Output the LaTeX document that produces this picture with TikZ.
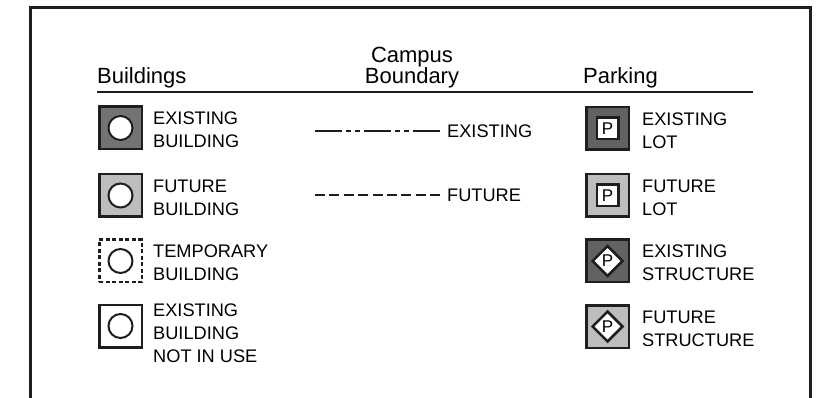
\documentclass[tikz,border=0pt]{standalone}
\usepackage{fontspec}
\setmainfont{Liberation Sans}
\usepackage{tikz}
\usetikzlibrary{positioning,shapes.geometric}
\definecolor{existgray}{HTML}{737373}
\definecolor{futuregray}{HTML}{BDBDBD}
\definecolor{inkblack}{HTML}{1E1E1E}

\begin{document}
\begin{tikzpicture}[x=1pt, y=-1pt,
  frame/.style={draw=inkblack, line width=3pt},
  head/.style={inner sep=0pt, font=\fontsize{22}{21}\selectfont},
  icon/.style={draw=inkblack, line width=2.5pt, minimum size=42.5pt, inner sep=0pt},
  hole/.style={circle, draw=inkblack, fill=white, line width=2pt,
               minimum size=24pt, inner sep=0pt},
  pbox/.style={draw=inkblack, fill=white, line width=2.5pt, minimum size=21.5pt,
               inner sep=0pt, font=\fontsize{17}{17}\selectfont},
  pdia/.style={diamond, draw=inkblack, fill=white, line width=2.5pt, minimum size=31pt,
               inner sep=0pt, font=\fontsize{17}{17}\selectfont},
  txt/.style={align=left, inner sep=0pt, font=\fontsize{18.2}{22.8}\selectfont},
  bnd/.style={draw=inkblack, line width=2.5pt}]
\useasboundingbox (0,0) rectangle (817,398);
\draw[frame] (30,398) -- (30,8) -- (810,8) -- (810,398);

% headings
\node[head, anchor=base west] (hbld) at (97,84) {Buildings};
\node[head, align=center, anchor=south] (hbnd) at (412,88) {Campus\\Boundary};
\node[head, anchor=base west] (hpark) at (583,84) {Parking};
\draw[draw=inkblack, line width=2pt] (97,92) -- (753,92);

% buildings
\node[icon, fill=existgray] (b1) at (120.5,128) {};
\node[hole] at (b1.center) {};
\node[txt, right=10pt of b1, yshift=-2pt] (b1t) {EXISTING\\BUILDING};
\node[icon, fill=futuregray] (b2) at (120.5,195.5) {};
\node[hole] at (b2.center) {};
\node[txt, right=10pt of b2, yshift=-2pt] (b2t) {FUTURE\\BUILDING};
\node[icon, dash pattern=on 4pt off 2.5pt] (b3) at (120.5,261) {};
\node[hole] at (b3.center) {};
\node[txt, right=10pt of b3, yshift=-2pt] (b3t) {TEMPORARY\\BUILDING};
\node[icon] (b4) at (120.5,326) {};
\node[hole] at (b4.center) {};
\node[txt, right=10pt of b4, yshift=-7pt] (b4t) {EXISTING\\BUILDING\\NOT IN USE};

% campus boundary
\coordinate (ex0) at (315,131);
\node[txt, anchor=west] (ext) at (447,131) {EXISTING};
\draw[bnd, dash pattern=on 27pt off 4pt on 5pt off 4pt on 5pt off 4pt]
  (ex0) -- ([xshift=-7pt]ext.west);
\coordinate (fu0) at (315,195);
\node[txt, anchor=west] (fut) at (447,195) {FUTURE};
\draw[bnd, dash pattern=on 10pt off 4.375pt] (fu0) -- ([xshift=-7pt]fut.west);

% parking
\node[icon, fill=existgray!85!black] (p1) at (607.5,128.5) {};
\node[pbox] at (p1.center) {P};
\node[txt, right=12pt of p1, yshift=-2pt] (p1t) {EXISTING\\LOT};
\node[icon, fill=futuregray] (p2) at (607.5,195.5) {};
\node[pbox] at (p2.center) {P};
\node[txt, right=12pt of p2, yshift=-2pt] (p2t) {FUTURE\\LOT};
\node[icon, fill=existgray!85!black] (p3) at (607.5,261) {};
\node[pdia] at (p3.center) {P};
\node[txt, right=12pt of p3, yshift=-2pt] (p3t) {EXISTING\\STRUCTURE};
\node[icon, fill=futuregray] (p4) at (607.5,326.5) {};
\node[pdia] at (p4.center) {P};
\node[txt, right=12pt of p4, yshift=-2pt] (p4t) {FUTURE\\STRUCTURE};
\end{tikzpicture}
\end{document}
